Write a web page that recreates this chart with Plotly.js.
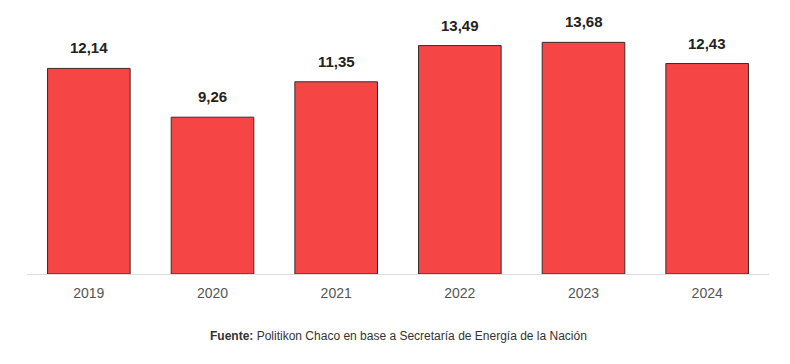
<!DOCTYPE html>
<html>
<head>
<meta charset="utf-8">
<script src="https://cdn.plot.ly/plotly-3.0.1.min.js"></script>
<style>html,body{margin:0;padding:0;background:#fff;}#chart{width:790px;height:364px;}</style>
</head>
<body>
<div id="chart"></div>
<script>
const years = ["2019", "2020", "2021", "2022", "2023", "2024"];
const values = [12.14, 9.26, 11.35, 13.49, 13.68, 12.43];
const valueLabels = ["12,14", "9,26", "11,35", "13,49", "13,68", "12,43"];
const sourceText = "<b>Fuente:</b> Politikon Chaco en base a Secretaría de Energía de la Nación";

const trace = {
  type: "bar",
  x: years,
  y: values,
  marker: {color: "#f54545", line: {color: "#3a2a2a", width: 1}},
  hoverinfo: "skip"
};

const annotations = years.map((yr, i) => ({
  x: i, y: values[i], xref: "x", yref: "y",
  text: "<b>" + valueLabels[i] + "</b>",
  showarrow: false, yanchor: "bottom", yshift: 10,
  font: {family: "Liberation Sans, Arial, sans-serif", size: 15, color: "#222"}
}));
annotations.push({
  xref: "paper", yref: "paper", x: 0.5, y: -0.245, yanchor: "middle", xanchor: "center",
  text: sourceText, showarrow: false,
  font: {family: "Liberation Sans, Arial, sans-serif", size: 12, color: "#333"}
});

const layout = {
  width: 790, height: 364,
  margin: {l: 27, r: 21, t: 20, b: 90},
  paper_bgcolor: "#fff", plot_bgcolor: "#fff",
  bargap: 0.332,
  showlegend: false,
  xaxis: {
    type: "category",
    range: [-0.5, years.length - 0.5],
    showline: true, linecolor: "#dcdcdc", linewidth: 1,
    showgrid: false, zeroline: false, ticks: "",
    tickfont: {family: "Liberation Sans, Arial, sans-serif", size: 14, color: "#555"},
    ticklabelstandoff: 6
  },
  yaxis: {range: [0, 15], visible: false, showgrid: false, zeroline: false},
  annotations: annotations
};

Plotly.newPlot("chart", [trace], layout, {displayModeBar: false, staticPlot: true});
</script>
</body>
</html>
